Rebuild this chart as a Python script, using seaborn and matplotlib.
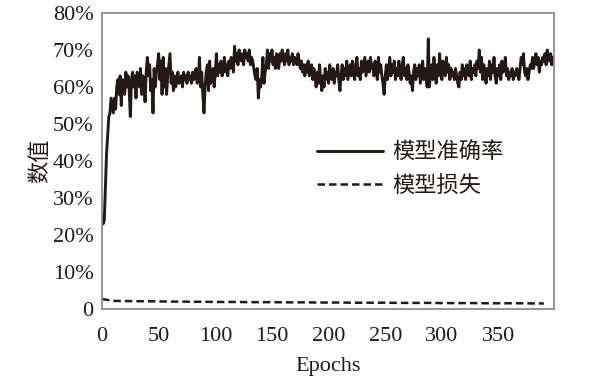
import numpy as np
import pandas as pd
import matplotlib
matplotlib.use('Agg')
import matplotlib.pyplot as plt
import seaborn as sns
from matplotlib.ticker import FuncFormatter

# accuracy per epoch (%)
acc = [
    25, 23, 24, 33, 42, 47, 52, 53, 57, 55,
    53, 57, 54, 60, 62, 58, 63, 55, 62, 61,
    58, 64, 60, 63, 59, 52, 62, 64, 60, 63,
    57, 64, 62, 60, 65, 58, 63, 61, 56, 64,
    68, 63, 66, 59, 62, 53, 65, 60, 64, 66,
    69, 62, 67, 58, 68, 60, 65, 58, 63, 66,
    69, 61, 64, 59, 63, 60, 62, 64, 61, 62,
    63, 60, 64, 62, 63, 61, 64, 62, 63, 61,
    64, 62, 63, 65, 61, 62, 68, 60, 64, 58,
    53, 60, 64, 66, 59, 67, 61, 63, 65, 60,
    64, 69, 63, 66, 64, 67, 63, 65, 68, 64,
    66, 63, 67, 65, 68, 66, 64, 71, 67, 69,
    66, 70, 68, 67, 69, 66, 70, 68, 69, 67,
    70, 66, 68, 67, 65, 63, 62, 65, 57, 62,
    60, 63, 68, 61, 64, 66, 70, 65, 69, 67,
    70, 66, 68, 65, 69, 67, 65, 69, 67, 70,
    68, 66, 69, 67, 70, 66, 68, 67, 69, 66,
    68, 67, 66, 69, 67, 65, 67, 64, 66, 63,
    66, 64, 67, 63, 65, 66, 62, 65, 63, 60,
    64, 61, 66, 62, 59, 63, 60, 65, 62, 64,
    61, 66, 63, 62, 65, 61, 64, 63, 66, 62,
    59, 63, 66, 62, 65, 63, 67, 62, 64, 66,
    63, 67, 64, 62, 66, 68, 63, 65, 62, 67,
    64, 66, 68, 63, 65, 67, 64, 68, 65, 66,
    63, 67, 65, 62, 68, 64, 66, 63, 61, 58,
    63, 66, 62, 65, 68, 63, 66, 64, 67, 62,
    65, 63, 67, 64, 62, 66, 68, 63, 65, 62,
    66, 64, 61, 63, 59, 64, 66, 62, 65, 63,
    66, 61, 64, 67, 62, 65, 63, 60, 73, 60,
    64, 66, 62, 68, 64, 61, 66, 63, 69, 64,
    62, 67, 65, 63, 68, 64, 66, 62, 65, 63,
    64, 62, 65, 63, 61, 60, 64, 62, 66, 63,
    65, 62, 66, 64, 63, 67, 62, 65, 64, 66,
    63, 67, 65, 70, 64, 68, 62, 66, 64, 61,
    65, 63, 67, 62, 66, 64, 68, 63, 61, 65,
    63, 66, 62, 67, 64, 65, 68, 63, 65, 62,
    64, 63, 65, 62, 64, 63, 65, 64, 62, 65,
    68, 66, 69, 64, 63, 65, 62, 64, 66, 65,
    68, 65, 67, 69, 66, 68, 64, 67, 66, 68,
    67, 69, 66, 70, 68, 67, 69, 66, 68, 67,
]
epochs = list(range(len(acc)))

# loss (%), read every 10 epochs
loss_epochs = list(range(0, 400, 10))
loss = [2.7, 2.2, 2.15, 2.1, 2.1, 2.05, 2.0, 2.0, 1.95, 1.95,
        1.9, 1.9, 1.9, 1.85, 1.85, 1.85, 1.8, 1.8, 1.8, 1.75,
        1.75, 1.75, 1.7, 1.7, 1.7, 1.7, 1.65, 1.65, 1.65, 1.65,
        1.6, 1.6, 1.6, 1.6, 1.55, 1.55, 1.55, 1.55, 1.5, 1.5]

df_acc = pd.DataFrame({'Epochs': epochs, 'val': np.array(acc) / 100})
df_loss = pd.DataFrame({'Epochs': loss_epochs, 'val': np.array(loss) / 100})

sns.set_theme(style='white')
plt.rcParams['font.family'] = ['Liberation Serif', 'Noto Sans CJK SC']
plt.rcParams['axes.unicode_minus'] = False

fig = plt.figure(figsize=(6.12, 3.88), dpi=100)
ax = fig.add_axes([0.1667, 0.2036, 0.7386, 0.763])

line_col = '#231815'
sns.lineplot(data=df_acc, x='Epochs', y='val', ax=ax, color=line_col,
             linewidth=2.1, label='模型准确率')
sns.lineplot(data=df_loss, x='Epochs', y='val', ax=ax, color=line_col,
             linewidth=1.8, linestyle=(0, (3, 1.6)), label='模型损失')

ax.set_xlim(0, 399)
ax.set_ylim(0, 0.8)
ax.set_xticks(range(0, 400, 50))
ax.set_yticks(np.arange(0, 0.81, 0.1))
ax.yaxis.set_major_formatter(FuncFormatter(lambda v, p: '0' if abs(v) < 1e-9 else f'{v*100:.0f}%'))
ax.tick_params(axis='both', labelsize=16, length=0, colors='#231815')
ax.tick_params(axis='x', pad=13)
ax.tick_params(axis='y', pad=6)

for s in ax.spines.values():
    s.set_color('#8c8c8c')
    s.set_linewidth(1.3)

ax.set_xlabel('Epochs', fontsize=16, color='#231815', labelpad=8)
ax.set_ylabel('数值', fontsize=16, color='#231815', labelpad=1)

leg = ax.legend(loc='center left', bbox_to_anchor=(0.475, 0.47), frameon=False,
                fontsize=16, handlelength=3.0, handletextpad=0.4,
                labelspacing=0.55, borderpad=0, borderaxespad=0)
for t in leg.get_texts():
    t.set_color('#231815')

fig.savefig('out.png', dpi=100)
